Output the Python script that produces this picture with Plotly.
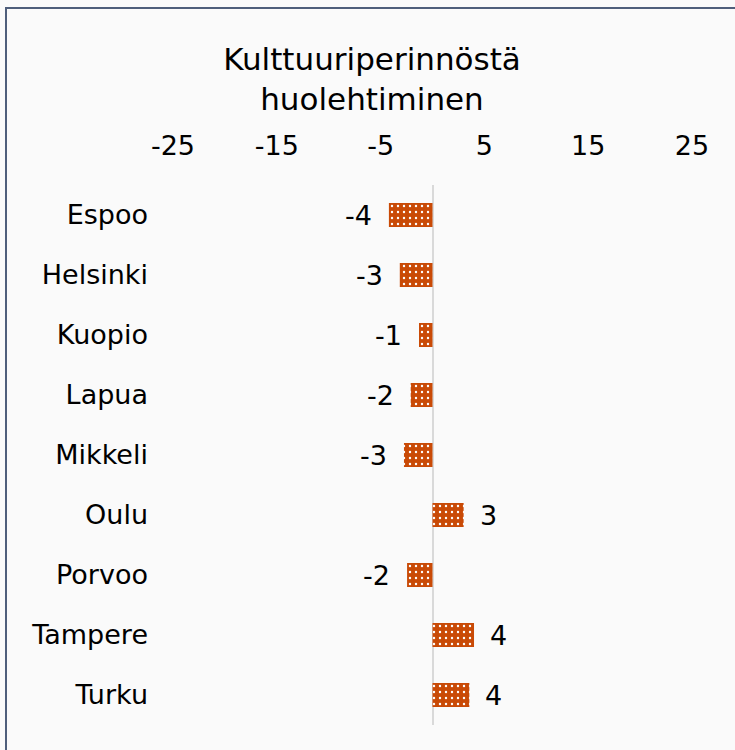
import plotly.graph_objects as go

categories = ["Espoo", "Helsinki", "Kuopio", "Lapua", "Mikkeli", "Oulu", "Porvoo", "Tampere", "Turku"]
values = [-4.2, -3.15, -1.3, -2.1, -2.75, 3.0, -2.45, 4.0, 3.55]
tick_vals = [-25, -15, -5, 5, 15, 25]
tick_text = ["-25", "-15", "-5", "5", "15", "25"]
title_text = "Kulttuuriperinnöstä<br>huolehtiminen"

W, H = 735, 750
ML, MR, MT, MB = 173, 43, 185, 25
PW, PH = W - ML - MR, H - MT - MB

FONT = "DejaVu Sans"
BAR = "#C94A06"
BG = "#FAFAFA"
FS = 27

fig = go.Figure()
fig.add_trace(go.Bar(
    y=categories, x=values, orientation="h", width=0.4,
    marker=dict(color=BAR, line=dict(width=0),
                pattern=dict(shape=".", fgcolor="white", bgcolor=BAR,
                             size=6, solidity=0.12, fillmode="replace")),
    hoverinfo="skip",
))

for c, v in zip(categories, values):
    fig.add_annotation(
        x=v, y=c, xref="x", yref="y", text=f"{round(v):d}", showarrow=False,
        xanchor="right" if v < 0 else "left",
        xshift=-15 if v < 0 else 14,
        font=dict(family=FONT, size=FS, color="#000000"),
    )

def px_x(p):
    return (p - ML) / PW

def px_y(p):
    return 1 - (p - MT) / PH

fig.add_shape(type="rect", xref="paper", yref="paper",
              x0=px_x(6), x1=px_x(745), y0=px_y(8), y1=px_y(760),
              line=dict(color="#4F5E7B", width=2), fillcolor="rgba(0,0,0,0)",
              layer="above")

fig.update_layout(
    width=W, height=H,
    margin=dict(l=ML, r=MR, t=MT, b=MB),
    paper_bgcolor=BG, plot_bgcolor=BG,
    showlegend=False,
    font=dict(family=FONT, size=FS, color="#000000"),
    title=dict(text=title_text, x=372 / W, xref="container", xanchor="center",
               y=1 - 70 / H, yref="container", yanchor="top",
               font=dict(family=FONT, size=31, color="#000000")),
    xaxis=dict(side="top", range=[-25, 25], tickmode="array",
               tickvals=tick_vals, ticktext=tick_text,
               showgrid=False, zeroline=True, zerolinecolor="#D9D9D9",
               zerolinewidth=2, showline=False, ticks="",
               ticklabelstandoff=24, fixedrange=True,
               tickfont=dict(family=FONT, size=FS, color="#000000")),
    yaxis=dict(autorange="reversed", showgrid=False, zeroline=False,
               showline=False, ticks="", ticklabelstandoff=24, fixedrange=True,
               tickfont=dict(family=FONT, size=FS, color="#000000")),
)

fig.write_html("out.html", config={"displayModeBar": False},
               post_script="document.body.style.margin='0';")
